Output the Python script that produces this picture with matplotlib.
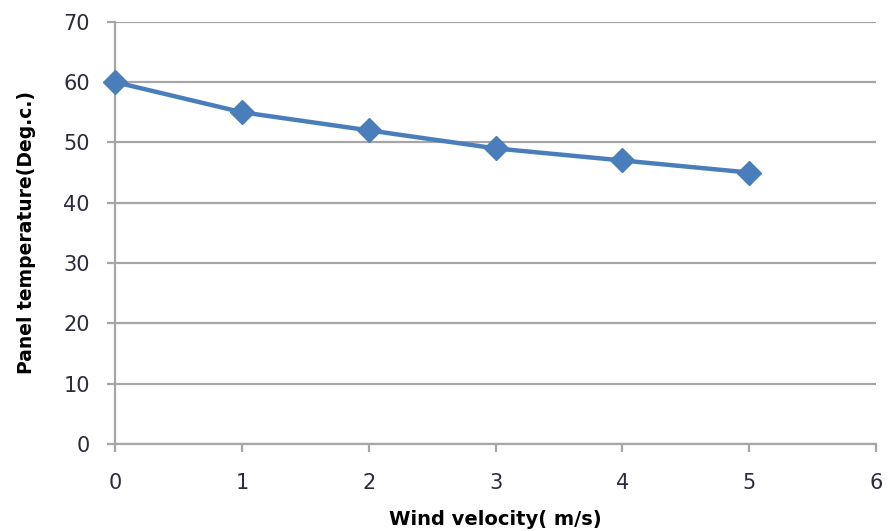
import matplotlib
matplotlib.use("Agg")
import matplotlib.pyplot as plt

# Data
wind_velocity = [0, 1, 2, 3, 4, 5]
panel_temp = [60, 55, 52, 49, 47, 45]
x_ticks = [0, 1, 2, 3, 4, 5, 6]
y_ticks = [0, 10, 20, 30, 40, 50, 60, 70]

LINE_BLUE = "#4a7ebb"
GRID_GREY = "#a6a6a6"
TEXT_DARK = "#2b2b3a"

fig = plt.figure(figsize=(8.88, 5.31), dpi=100)
ax = fig.add_axes([0.1295, 0.164, 0.857, 0.795])

ax.plot(wind_velocity, panel_temp, color=LINE_BLUE, lw=3.2,
        marker="D", markersize=12, clip_on=False, zorder=3)

ax.set_xlim(0, 6)
ax.set_ylim(0, 70)
ax.set_xticks(x_ticks)
ax.set_yticks(y_ticks)

ax.yaxis.grid(True, color=GRID_GREY, lw=1.6)
ax.set_axisbelow(True)
for side in ("top", "right"):
    ax.spines[side].set_visible(False)
for side in ("left", "bottom"):
    ax.spines[side].set_color(GRID_GREY)
    ax.spines[side].set_linewidth(1.6)

ax.tick_params(axis="both", color=GRID_GREY, width=1.6, length=6,
               labelsize=15, labelcolor=TEXT_DARK)
ax.tick_params(axis="x", pad=15)
ax.tick_params(axis="y", pad=12)

ax.set_xlabel("Wind velocity( m/s)", fontsize=14, fontweight="bold",
              color="black", labelpad=12)
ax.set_ylabel("Panel temperature(Deg.c.)", fontsize=13.5, fontweight="bold",
              color="black", labelpad=20)

fig.savefig("out.png", dpi=100)
